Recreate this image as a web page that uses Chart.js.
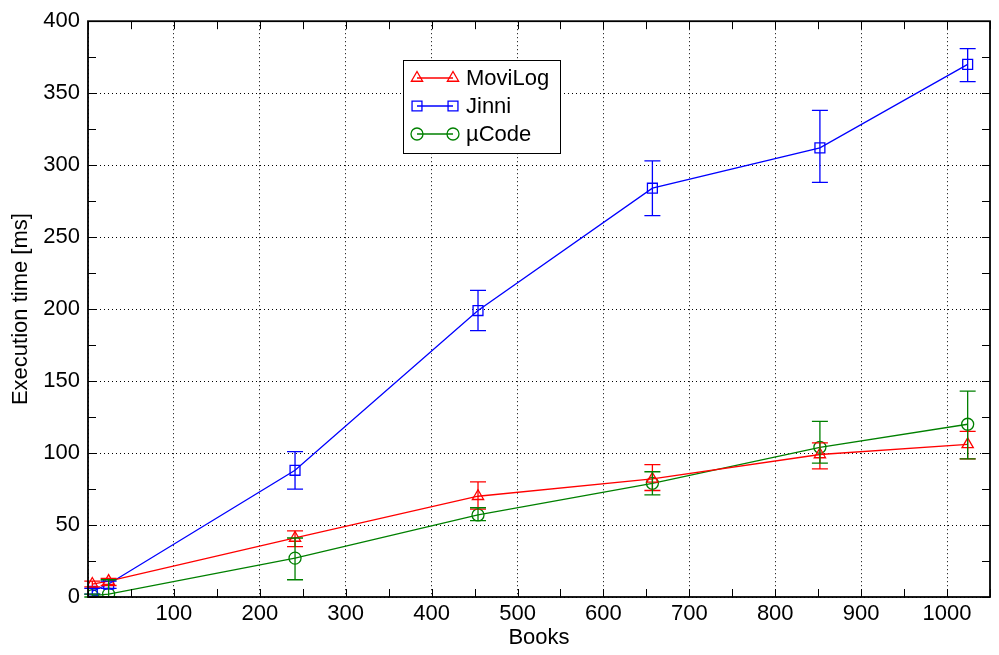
<!DOCTYPE html>
<html>
<head>
<meta charset="utf-8">
<script src="https://cdn.jsdelivr.net/npm/chart.js@4.4.0/dist/chart.umd.min.js"></script>
<style>
  html, body { margin: 0; padding: 0; background: #fff; }
  #wrap { width: 999px; height: 655px; }
</style>
</head>
<body>
<div id="wrap"><canvas id="chart" width="999" height="655"></canvas></div>
<script>
// === DATA ===
const books = [5, 24, 241, 454, 657, 852, 1024];

const moviLog     = [9, 11, 41, 70, 82, 99, 106];
const moviLogLow  = [7, 8, 35, 61, 74, 89, 96];
const moviLogHigh = [11, 13, 46, 80, 92, 107, 115];

const jinni     = [4, 9, 88, 199, 284, 312, 370];
const jinniLow  = [2, 6, 75, 185, 265, 288, 358];
const jinniHigh = [6, 11, 101, 213, 303, 338, 381];

const microCode     = [1, 2, 27, 57, 79, 104, 120];
const microCodeLow  = [0, 0, 12, 53, 71, 93, 96];
const microCodeHigh = [2, 12, 41, 62, 87, 122, 143];

const xTickValues = [0, 100, 200, 300, 400, 500, 600, 700, 800, 900, 1000];

const seriesNames = ['MoviLog', 'Jinni', 'µCode'];
const seriesColors = ['#ff0000', '#0000ff', '#008000'];
const seriesMarkers = ['triangle', 'rect', 'circle'];
const markerSizes = [6.5, 7, 6];

const FONT = 'Liberation Sans, Arial, Helvetica, sans-serif';
const FONT_SIZE = 22;

// === HELPERS ===
function toPoints(ys) {
  return books.map((b, i) => ({ x: b, y: ys[i] }));
}

function drawMarker(ctx, style, x, y, r) {
  ctx.beginPath();
  if (style === 'circle') {
    ctx.arc(x, y, r, 0, Math.PI * 2);
  } else if (style === 'rect') {
    const s = r * Math.SQRT1_2;
    ctx.rect(x - s, y - s, 2 * s, 2 * s);
  } else {
    for (let k = 0; k < 3; k++) {
      const a = k * 2 * Math.PI / 3;
      const px = x + Math.sin(a) * r, py = y - Math.cos(a) * r;
      if (k === 0) ctx.moveTo(px, py); else ctx.lineTo(px, py);
    }
    ctx.closePath();
  }
  ctx.stroke();
}

// === ERROR BARS ===
const errorSets = [
  { low: moviLogLow, high: moviLogHigh },
  { low: jinniLow, high: jinniHigh },
  { low: microCodeLow, high: microCodeHigh }
];

const errorBarPlugin = {
  id: 'errorBars',
  afterDatasetsDraw(chart) {
    const { ctx, scales: { x, y } } = chart;
    errorSets.forEach((es, i) => {
      ctx.save();
      ctx.strokeStyle = seriesColors[i];
      ctx.lineWidth = 1.3;
      books.forEach((b, j) => {
        const px = x.getPixelForValue(b);
        const top = y.getPixelForValue(es.high[j]);
        const bot = y.getPixelForValue(es.low[j]);
        ctx.beginPath();
        ctx.moveTo(px, top); ctx.lineTo(px, bot);
        ctx.moveTo(px - 8, top); ctx.lineTo(px + 8, top);
        ctx.moveTo(px - 8, bot); ctx.lineTo(px + 8, bot);
        ctx.stroke();
      });
      ctx.restore();
    });
  }
};

// === FRAME + INWARD TICKS ===
const framePlugin = {
  id: 'frame',
  afterDatasetsDraw(chart) {
    const { ctx, chartArea: a, scales: { x, y } } = chart;
    ctx.save();
    ctx.strokeStyle = '#000';
    ctx.lineWidth = 1;
    ctx.beginPath();
    for (let v = x.min; v <= x.max; v += 50) {
      const px = Math.round(x.getPixelForValue(v)) + 0.5;
      ctx.moveTo(px, a.bottom); ctx.lineTo(px, a.bottom - 8);
      ctx.moveTo(px, a.top); ctx.lineTo(px, a.top + 8);
    }
    for (let v = y.min; v <= y.max; v += 25) {
      const py = Math.round(y.getPixelForValue(v)) + 0.5;
      ctx.moveTo(a.left, py); ctx.lineTo(a.left + 8, py);
      ctx.moveTo(a.right, py); ctx.lineTo(a.right - 8, py);
    }
    ctx.stroke();
    ctx.lineWidth = 1.8;
    ctx.strokeRect(a.left, a.top, a.right - a.left, a.bottom - a.top);
    ctx.restore();
  }
};

// === LEGEND BOX ===
const legendPlugin = {
  id: 'boxLegend',
  afterDraw(chart) {
    const ctx = chart.ctx;
    ctx.save();
    ctx.fillStyle = '#fff';
    ctx.fillRect(403, 60, 158, 94);
    ctx.strokeStyle = '#000';
    ctx.lineWidth = 1;
    ctx.strokeRect(403.5, 60.5, 157, 93);
    ctx.font = FONT_SIZE + 'px ' + FONT;
    ctx.textBaseline = 'middle';
    chart.data.datasets.forEach((ds, i) => {
      const ly = 78 + i * 28;
      ctx.strokeStyle = seriesColors[i];
      ctx.lineWidth = 1.3;
      ctx.beginPath();
      ctx.moveTo(417, ly); ctx.lineTo(453, ly);
      ctx.stroke();
      drawMarker(ctx, seriesMarkers[i], 417, ly, markerSizes[i]);
      drawMarker(ctx, seriesMarkers[i], 453, ly, markerSizes[i]);
      ctx.fillStyle = '#000';
      ctx.fillText(ds.label, 466, ly + 1);
    });
    ctx.restore();
  }
};

// === CHART ===
const datasets = [moviLog, jinni, microCode].map((ys, i) => ({
  label: seriesNames[i],
  data: toPoints(ys),
  borderColor: seriesColors[i],
  backgroundColor: 'rgba(0,0,0,0)',
  pointBackgroundColor: 'rgba(0,0,0,0)',
  pointBorderColor: seriesColors[i],
  pointStyle: seriesMarkers[i],
  pointRadius: markerSizes[i],
  pointBorderWidth: 1.3,
  borderWidth: 1.3,
  showLine: true,
  fill: false,
  tension: 0
}));

const ctx = document.getElementById('chart').getContext('2d');
new Chart(ctx, {
  type: 'scatter',
  data: { datasets },
  options: {
    responsive: false,
    animation: false,
    devicePixelRatio: 1,
    layout: { padding: { top: 19, right: 9, left: 0, bottom: 0 } },
    plugins: { legend: { display: false }, tooltip: { enabled: false } },
    scales: {
      x: {
        type: 'linear', min: 0, max: 1050,
        afterBuildTicks: s => { s.ticks = xTickValues.map(v => ({ value: v })); },
        ticks: {
          color: '#000', padding: 4, maxRotation: 0, autoSkip: false,
          font: { family: FONT, size: FONT_SIZE },
          callback: v => (v === 0 ? '' : v)
        },
        grid: { color: '#000', lineWidth: 1, drawTicks: false },
        border: { display: false, dash: [1, 3] },
        title: {
          display: true, text: 'Books', color: '#000',
          font: { family: FONT, size: FONT_SIZE }, padding: { top: 0, bottom: 4 }
        },
        afterFit: s => { s.height = 58; }
      },
      y: {
        type: 'linear', min: 0, max: 400,
        ticks: {
          stepSize: 50, color: '#000', padding: 8,
          font: { family: FONT, size: FONT_SIZE }
        },
        grid: { color: '#000', lineWidth: 1, drawTicks: false },
        border: { display: false, dash: [1, 3] },
        title: {
          display: true, text: 'Execution time [ms]', color: '#000',
          font: { family: FONT, size: FONT_SIZE }, padding: { top: 8, bottom: 0 }
        },
        afterFit: s => { s.width = 88; }
      }
    }
  },
  plugins: [errorBarPlugin, framePlugin, legendPlugin]
});
</script>
</body>
</html>
